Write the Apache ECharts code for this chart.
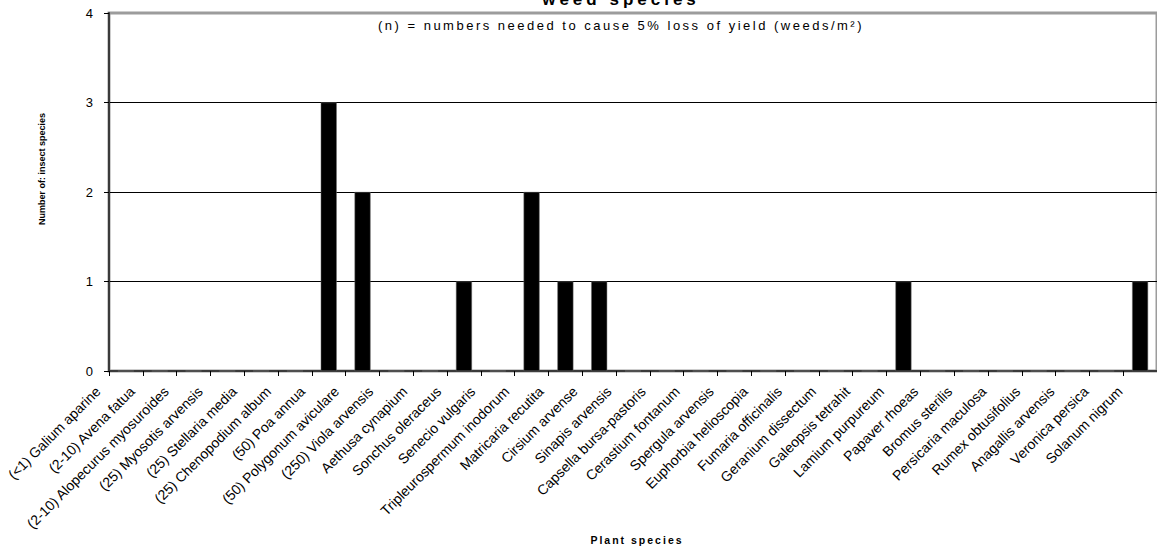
<!DOCTYPE html>
<html>
<head>
<meta charset="utf-8">
<title>Insect species per weed species</title>
<script src="https://cdn.jsdelivr.net/npm/echarts@6/dist/echarts.min.js"></script>
<style>
  html, body { margin: 0; padding: 0; background: #fff; }
  #chart { width: 1157px; height: 549px; }
  /* wide tracking on the horizontal headings */
  #chart text[style*="17.01px"] { letter-spacing: 4px; }
  #chart text[style*="13.01px"] { letter-spacing: 2.5px; }
  #chart text[style*="10.51px"] { letter-spacing: 2px; }
</style>
</head>
<body>
<div id="chart"></div>
<script>
// Weed species, with (n) = weeds/m² needed to cause a 5% yield loss
const categories = [
  '(<1) Galium aparine',
  '(2-10) Avena fatua',
  '(2-10) Alopecurus myosuroides',
  '(25) Myosotis arvensis',
  '(25) Stellaria media',
  '(25) Chenopodium album',
  '(50) Poa annua',
  '(50) Polygonum aviculare',
  '(250) Viola arvensis',
  'Aethusa cynapium',
  'Sonchus oleraceus',
  'Senecio vulgaris',
  'Tripleurospermum inodorum',
  'Matricaria recutita',
  'Cirsium arvense',
  'Sinapis arvensis',
  'Capsella bursa-pastoris',
  'Cerastium fontanum',
  'Spergula arvensis',
  'Euphorbia helioscopia',
  'Fumaria officinalis',
  'Geranium dissectum',
  'Galeopsis tetrahit',
  'Lamium purpureum',
  'Papaver rhoeas',
  'Bromus sterilis',
  'Persicaria maculosa',
  'Rumex obtusifolius',
  'Anagallis arvensis',
  'Veronica persica',
  'Solanum nigrum'
];

// Number of insect species recorded on each weed
const insectCounts = [
  0, 0, 0, 0, 0, 0, 3, 2, 0, 0,
  1, 0, 2, 1, 1, 0, 0, 0, 0, 0,
  0, 0, 0, 1, 0, 0, 0, 0, 0, 0,
  1
];

const yMin = 0;
const yMax = 4;
const yStep = 1;

const titleText = 'weed species';
const subtitleText = '(n) = numbers needed to cause 5% loss of yield (weeds/m²)';
const yAxisTitle = 'Number of: insect species';
const xAxisTitle = 'Plant species';

const FONT = "'Liberation Sans', Arial, Helvetica, sans-serif";

const chart = echarts.init(document.getElementById('chart'), null, { renderer: 'svg' });

chart.setOption({
  animation: false,
  backgroundColor: '#ffffff',
  textStyle: { fontFamily: FONT, color: '#000' },
  grid: [
    {
      // plot area
      left: 109, top: 13, width: 1056, height: 358,
      show: true, borderColor: '#9c9c9c', borderWidth: 3,
      backgroundColor: 'transparent', containLabel: false
    },
    {
      // category label band, set slightly left of the bar slots
      left: 81, top: 13, width: 1056, height: 358,
      show: false, containLabel: false
    }
  ],
  xAxis: [
    {
      gridIndex: 0,
      type: 'category',
      data: categories,
      boundaryGap: true,
      axisLine: { show: true, lineStyle: { color: '#3a3a3a', width: 2 } },
      axisTick: { show: true, interval: 0, length: 5, lineStyle: { color: '#000', width: 1 } },
      axisLabel: { show: false },
      splitLine: { show: false }
    },
    {
      gridIndex: 1,
      type: 'category',
      data: categories,
      boundaryGap: true,
      axisLine: { show: false },
      axisTick: { show: false },
      axisLabel: {
        show: true, interval: 0, rotate: 45, margin: 18,
        fontSize: 14, color: '#000', fontFamily: FONT
      },
      splitLine: { show: false }
    }
  ],
  yAxis: [
    {
      gridIndex: 0,
      type: 'value',
      min: yMin, max: yMax, interval: yStep,
      axisLine: { show: true, lineStyle: { color: '#3a3a3a', width: 2 } },
      axisTick: { show: true, length: 5, lineStyle: { color: '#000', width: 1 } },
      axisLabel: { show: true, margin: 16, fontSize: 13, color: '#000', fontFamily: FONT },
      splitLine: {
        show: true, showMinLine: false, showMaxLine: false,
        lineStyle: { color: '#000', width: 1 }
      }
    },
    {
      gridIndex: 1,
      type: 'value',
      min: yMin, max: yMax, interval: yStep,
      show: false
    }
  ],
  series: [
    {
      type: 'bar',
      name: 'Insect species',
      xAxisIndex: 0,
      yAxisIndex: 0,
      data: insectCounts,
      barWidth: 16,
      itemStyle: { color: '#000', borderColor: '#6e6e6e', borderWidth: 0.5 }
    }
  ],
  graphic: [
    {
      type: 'text', x: 621, y: -0.9, silent: true,
      style: {
        text: titleText, fill: '#000', align: 'center', verticalAlign: 'middle',
        font: 'bold 17.01px ' + FONT
      }
    },
    {
      type: 'text', x: 621, y: 25.5, silent: true,
      style: {
        text: subtitleText, fill: '#000', align: 'center', verticalAlign: 'middle',
        font: '13.01px ' + FONT
      }
    },
    {
      type: 'text', x: 41.5, y: 169, rotation: Math.PI / 2, silent: true,
      style: {
        text: yAxisTitle, fill: '#000', align: 'center', verticalAlign: 'middle',
        font: 'bold 9px ' + FONT
      }
    },
    {
      type: 'text', x: 637, y: 540.4, silent: true,
      style: {
        text: xAxisTitle, fill: '#000', align: 'center', verticalAlign: 'middle',
        font: 'bold 10.51px ' + FONT
      }
    }
  ]
});
</script>
</body>
</html>
